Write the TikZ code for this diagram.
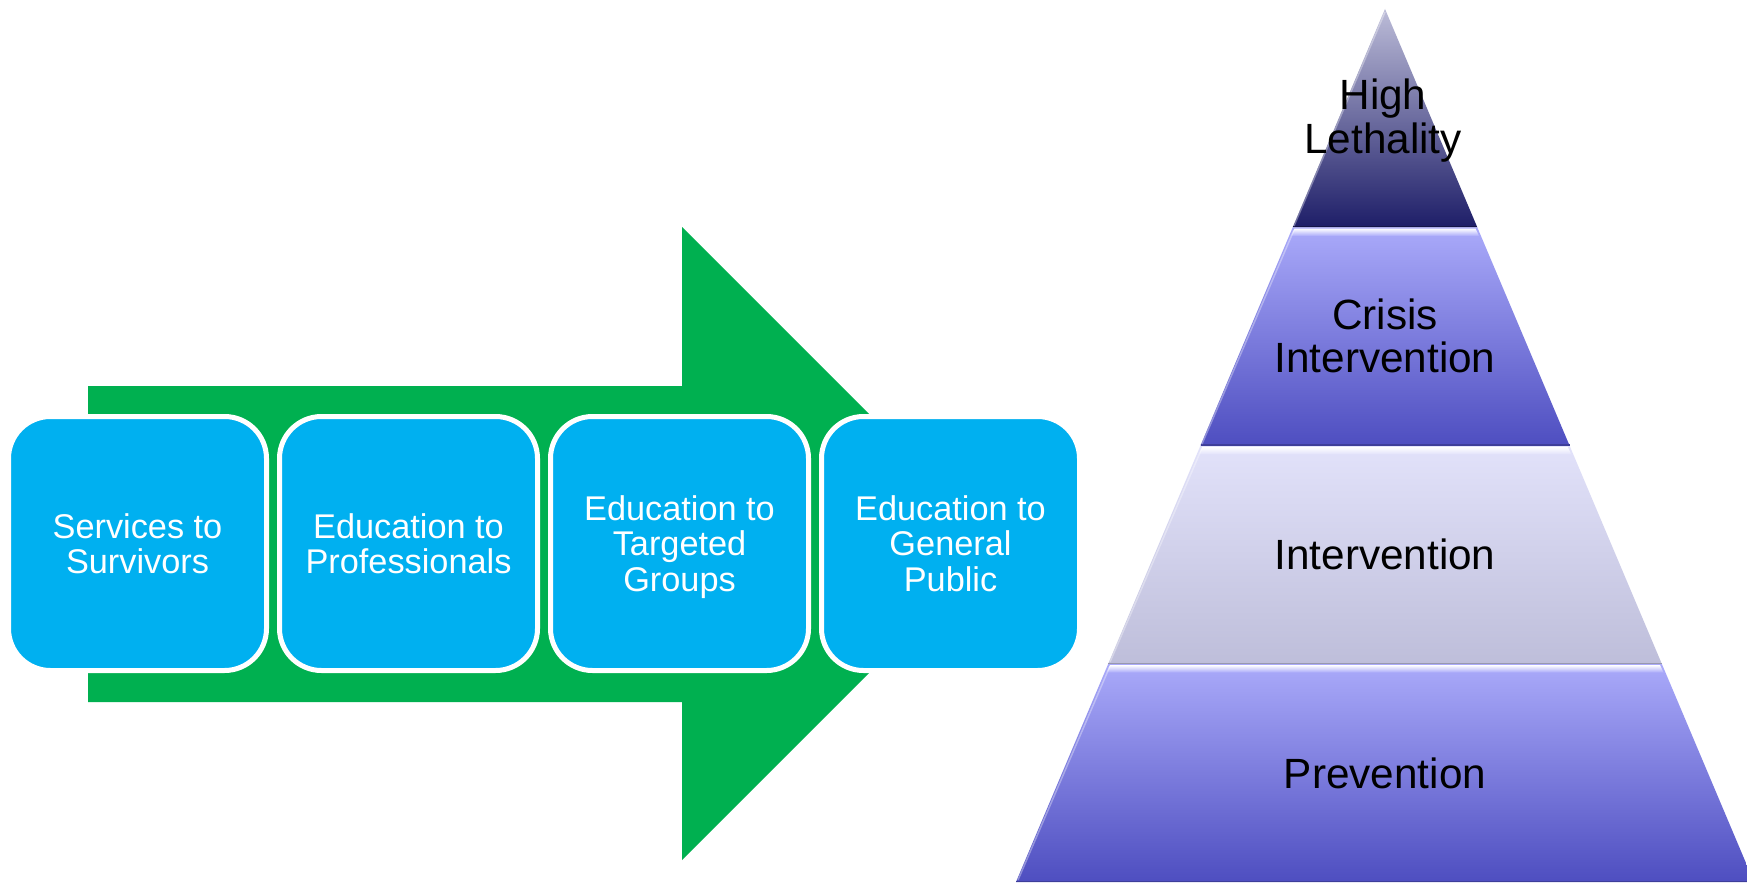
\documentclass[tikz,border=0pt]{standalone}
\usepackage{fontspec}
\setmainfont{Liberation Sans}
\definecolor{arrowgreen}{RGB}{0,176,80}
\definecolor{boxblue}{RGB}{0,176,240}
\definecolor{aTop}{RGB}{188,188,216}
\definecolor{aMid}{RGB}{105,105,165}
\definecolor{aBot}{RGB}{30,30,104}
\definecolor{bTop}{RGB}{170,170,250}
\definecolor{bMid}{RGB}{135,135,230}
\definecolor{bBot}{RGB}{78,78,192}
\definecolor{cTop}{RGB}{226,226,250}
\definecolor{cMid}{RGB}{208,208,235}
\definecolor{cBot}{RGB}{190,190,218}
\tikzset{
  bluebox/.style={rectangle, rounded corners=42pt, minimum width=258pt, minimum height=254pt,
    fill=boxblue, draw=white, line width=5pt, text=white, align=center, inner sep=0pt,
    font=\fontsize{34.3}{35.5}\selectfont},
  pyrtext/.style={text=black, align=center, inner sep=0pt, font=\fontsize{42.3}{43.5}\selectfont},
  hilite/.style={top color=white, bottom color=#1},
  bandedge/.style={line width=1.2pt}
}
\begin{document}
\begin{tikzpicture}[x=1pt,y=-1pt]
\useasboundingbox (0,0) rectangle (1747,883);
\fill[white] (0,0) rectangle (1747,883);
% big green arrow
\fill[arrowgreen] (88,386) -- (682,386) -- (682,227) -- (998.5,543.5) -- (682,860) -- (682,702) -- (88,702) -- cycle;
% boxes
\node[bluebox] (b1) at (137.5,543.5) {Services to\\Survivors};
\node[bluebox] (b2) at (408.5,543.5) {Education to\\Professionals};
\node[bluebox] (b3) at (679.5,543.5) {Education to\\Targeted\\\smash{Groups}};
\node[bluebox] (b4) at (950.5,543.5) {Education to\\General\\Public};
% pyramid bands
\shade[top color=aTop, middle color=aMid, bottom color=aBot]
  (1385,9) -- (1477.25,227.25) -- (1292.75,227.25) -- cycle;
\shade[top color=bTop, middle color=bMid, bottom color=bBot]
  (1292.75,227.25) -- (1477.25,227.25) -- (1569.5,445.5) -- (1200.5,445.5) -- cycle;
\shade[top color=cTop, middle color=cMid, bottom color=cBot]
  (1200.5,445.5) -- (1569.5,445.5) -- (1661.75,663.75) -- (1108.25,663.75) -- cycle;
\shade[top color=bTop, middle color=bMid, bottom color=bBot]
  (1108.25,663.75) -- (1661.75,663.75) -- (1754,882) -- (1016,882) -- cycle;
% bevel highlights
\shade[hilite=bTop] (1294.5,228.5) -- (1475.5,228.5) -- (1479,236) -- (1291,236) -- cycle;
\shade[hilite=cTop] (1202.3,446.8) -- (1567.7,446.8) -- (1571.2,454.3) -- (1198.8,454.3) -- cycle;
\shade[hilite=bTop] (1110,665) -- (1660,665) -- (1663.5,672.5) -- (1106.5,672.5) -- cycle;
% darker lower edges
\draw[bandedge, aBot!70!black] (1292.75,226.6) -- (1477.25,226.6);
\draw[bandedge, bBot!80!black] (1200.5,444.9) -- (1569.5,444.9);
\draw[bandedge, cBot!80!black] (1108.25,663.1) -- (1661.75,663.1);
\draw[bandedge, bBot!80!black] (1016,881.4) -- (1754,881.4);
% side bevels
\draw[line width=1.5pt, white, opacity=0.35] (1385,12) -- (1294,226);
\draw[line width=1.5pt, white, opacity=0.35] (1294,230) -- (1202,444);
\draw[line width=1.5pt, white, opacity=0.35] (1202,448) -- (1110,662);
\draw[line width=1.5pt, white, opacity=0.35] (1110,666) -- (1018,880);
% pyramid labels
\node[pyrtext] (t1) at (1383,116) {High\\\smash{Lethality}};
\node[pyrtext] (t2) at (1385,336) {Crisis\\Intervention};
\node[pyrtext] (t3) at (1385,554.5) {Intervention};
\node[pyrtext] (t4) at (1385,773) {Prevention};
\end{tikzpicture}
\end{document}
